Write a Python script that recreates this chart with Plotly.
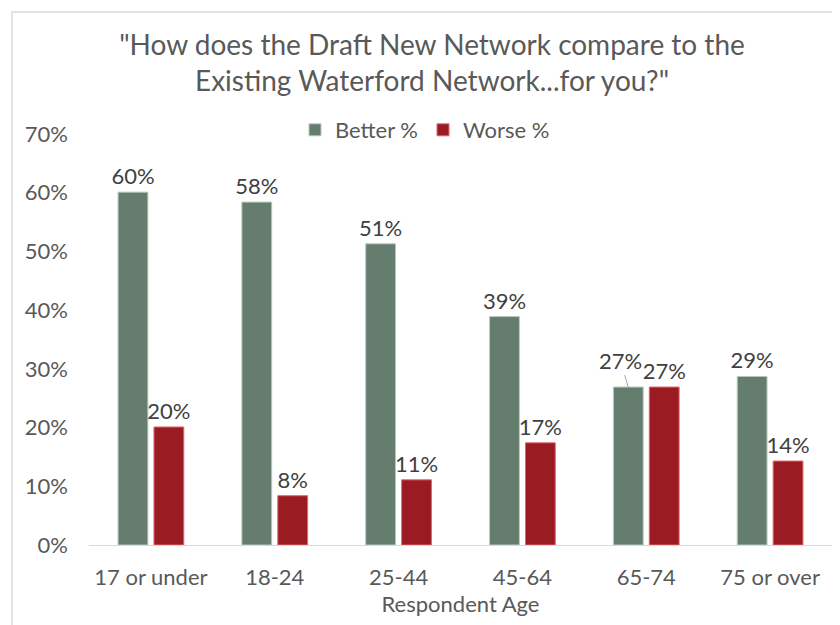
import plotly.graph_objects as go

categories = ["17 or under", "18-24", "25-44", "45-64", "65-74", "75 or over"]
better = [60.1, 58.4, 51.3, 38.9, 26.9, 28.7]
worse = [20.1, 8.4, 11.1, 17.4, 26.9, 14.3]
better_labels = ["60%", "58%", "51%", "39%", "", "29%"]
worse_labels = ["20%", "8%", "11%", "17%", "27%", "14%"]
y_ticks = [0, 10, 20, 30, 40, 50, 60, 70]
y_tick_text = ["0%", "10%", "20%", "30%", "40%", "50%", "60%", "70%"]

GREEN = "#647D6E"
RED = "#9B1B22"
TXT = "#595959"
LBL = "#404040"
FONT = "Lato, 'Liberation Sans Narrow', sans-serif"

# the page body adds an 8px offset; lay out in page pixels minus that offset
OFF = 8
L, T = 89 - OFF, 134 - OFF
R = 840 - (832 - OFF)
B = 625 - (545 - OFF)
PW, PH = 840 - L - R, 625 - T - B
BOTTOM = 625 - B

fig = go.Figure()
fig.add_trace(go.Bar(
    name="Better %", x=categories, y=better,
    marker=dict(color=GREEN, line=dict(color="#B9C8BE", width=1)),
    text=better_labels, textposition="outside", cliponaxis=False,
    constraintext="none",
    textfont=dict(size=22, color=LBL),
))
fig.add_trace(go.Bar(
    name="Worse %", x=categories, y=worse,
    marker=dict(color=RED, line=dict(color="#E0686E", width=1)),
    text=worse_labels, textposition="outside", cliponaxis=False,
    constraintext="none",
    textfont=dict(size=22, color=LBL),
))

# offset label with leader line for 65-74 "Better"
fig.add_annotation(
    x=categories[4], y=better[4], xref="x", yref="y", xshift=-18,
    text="27%", showarrow=True, arrowhead=0, arrowwidth=1, arrowcolor="#A6A6A6",
    ax=-8, ay=-27, font=dict(size=22, color=LBL), standoff=0,
)

fig.update_layout(
    width=840, height=625,
    margin=dict(l=L, r=R, t=T, b=B, autoexpand=False),
    paper_bgcolor="white", plot_bgcolor="white",
    font=dict(family=FONT, color=TXT, size=22),
    barmode="group", bargap=0.42, bargroupgap=0.17,
    title=dict(
        text="\"How does the Draft New Network compare to the<br>Existing Waterford Network...for you?\"",
        x=(432 - OFF) / 840, xanchor="center", y=1 - 47 / 625, yanchor="top", yref="container",
        font=dict(size=28, color=TXT, family=FONT),
    ),
    legend=dict(
        orientation="h", x=(425 - OFF - L) / PW, xanchor="center",
        y=(BOTTOM - (130 - OFF)) / PH,
        yanchor="middle", font=dict(size=22, color=TXT), itemwidth=30,
        traceorder="normal", bgcolor="rgba(0,0,0,0)",
    ),
    xaxis=dict(
        automargin=False,
        showline=True, linecolor="#D9D9D9", linewidth=1, ticks="",
        tickfont=dict(size=22, color=TXT), ticklabelstandoff=13,
        title=dict(text="Respondent Age", font=dict(size=22, color=TXT), standoff=6),
    ),
    yaxis=dict(
        automargin=False,
        range=[0, 70], tickvals=y_ticks, ticktext=y_tick_text, showgrid=False,
        zeroline=False, showline=False, ticks="",
        tickfont=dict(size=22, color=TXT), ticklabelstandoff=20,
    ),
    shapes=[dict(
        type="rect", xref="paper", yref="paper",
        x0=(12 - OFF - L) / PW, x1=1.05, y0=-0.3, y1=(BOTTOM - (12 - OFF)) / PH,
        line=dict(color="#D9D9D9", width=1.5), fillcolor="rgba(0,0,0,0)", layer="below",
    )],
)

fig.write_html("out.html")
